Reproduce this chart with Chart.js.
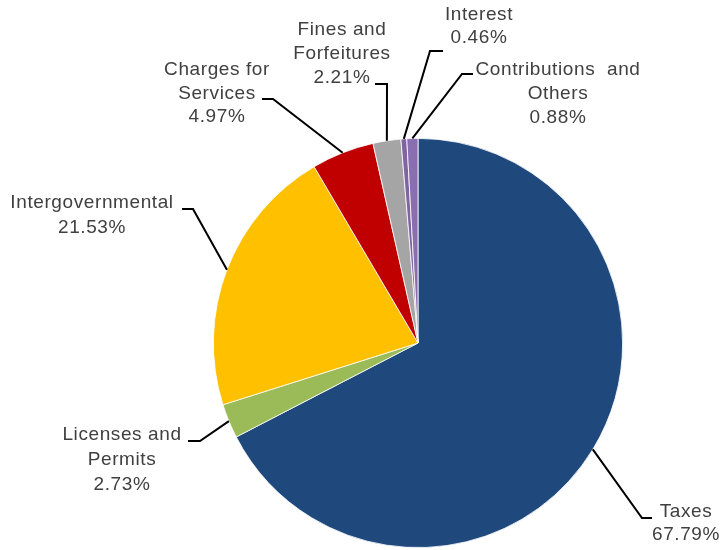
<!DOCTYPE html>
<html>
<head>
<meta charset="utf-8">
<script src="https://cdn.jsdelivr.net/npm/chart.js@4"></script>
<style>
  body { margin: 0; background: #fff; }
  canvas { display: block; }
</style>
</head>
<body>
<canvas id="revenuePie" width="722" height="550"></canvas>
<script>
// Revenue sources, percent of total
var categories = ['Taxes', 'Licenses and Permits', 'Intergovernmental', 'Charges for Services',
                  'Fines and Forfeitures', 'Interest', 'Contributions and Others'];
var shares = [67.79, 2.73, 21.53, 4.97, 2.21, 0.46, 0.88];
var sliceColors = ['#1f497d', '#9bbb59', '#ffc000', '#c00000', '#a5a5a5', '#8064a2', '#8a6fb0'];

// label text lines per slice (name split over lines, percent last)
var labelLines = [
  ['Taxes'],
  ['Licenses and', 'Permits'],
  ['Intergovernmental'],
  ['Charges for', 'Services'],
  ['Fines and', 'Forfeitures'],
  ['Interest'],
  ['Contributions  and', 'Others']
];

// where each callout sits: text centre x, first line y, line step, elbow and tail of the leader
var callouts = [
  { x: 686, y: 512, step: 23, elbow: [642, 518], tail: [652, 518] },
  { x: 122, y: 435, step: 25, elbow: [200, 441], tail: [188, 441] },
  { x: 92,  y: 203, step: 25, elbow: [193, 209], tail: [182, 209] },
  { x: 217, y: 70,  step: 23.5, elbow: [273, 99], tail: [262, 99] },
  { x: 342, y: 30,  step: 24, elbow: [387, 84], tail: [375, 84] },
  { x: 479, y: 15,  step: 23, elbow: [430, 51], tail: [443, 51] },
  { x: 558, y: 70,  step: 24, elbow: [462, 74], tail: [473, 74] }
];

var calloutPlugin = {
  id: 'callouts',
  afterDatasetsDraw: function (chart) {
    var ctx = chart.ctx;
    var arcs = chart.getDatasetMeta(0).data;
    ctx.save();
    arcs.forEach(function (arc, i) {
      var c = callouts[i];
      var mid = (arc.startAngle + arc.endAngle) / 2;
      var r = arc.outerRadius;
      var sx = arc.x + Math.cos(mid) * r;
      var sy = arc.y + Math.sin(mid) * r;

      ctx.strokeStyle = '#000';
      ctx.lineWidth = 2;
      ctx.beginPath();
      ctx.moveTo(sx, sy);
      ctx.lineTo(c.elbow[0], c.elbow[1]);
      ctx.lineTo(c.tail[0], c.tail[1]);
      ctx.stroke();

      var lines = labelLines[i].concat([shares[i].toFixed(2) + '%']);
      ctx.fillStyle = '#404040';
      ctx.font = '19px "Liberation Sans", Arial, sans-serif';
      ctx.letterSpacing = '0.6px';
      ctx.textAlign = 'center';
      ctx.textBaseline = 'middle';
      lines.forEach(function (t, k) {
        ctx.fillText(t, c.x, c.y + k * c.step);
      });
    });
    ctx.restore();
  }
};

new Chart(document.getElementById('revenuePie').getContext('2d'), {
  type: 'pie',
  data: {
    labels: categories,
    datasets: [{
      data: shares,
      backgroundColor: sliceColors,
      borderColor: '#ffffff',
      borderWidth: 0.8
    }]
  },
  options: {
    responsive: false,
    animation: false,
    layout: { padding: { left: 213, right: 99, top: 138, bottom: 2 } },
    plugins: {
      legend: { display: false },
      tooltip: { enabled: false }
    }
  },
  plugins: [calloutPlugin]
});
</script>
</body>
</html>
